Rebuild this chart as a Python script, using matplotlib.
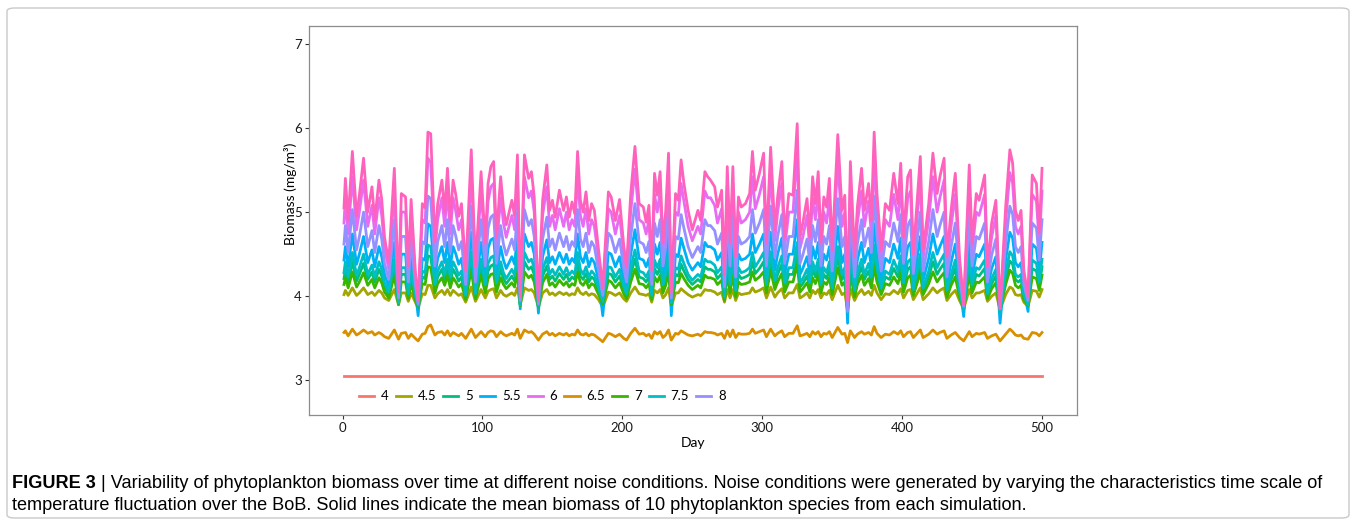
import matplotlib
matplotlib.use("Agg")
import matplotlib.pyplot as plt
from matplotlib.patches import FancyBboxPatch

plt.rcParams['font.family'] = ['Lato', 'DejaVu Sans']

# days at which the curves were read (turning points of the noisiest curve)
day = [1, 2, 4, 7, 10, 12, 15, 18, 21, 23,
       26, 28, 30, 33, 37, 40, 42, 45, 47, 49,
       52, 54, 57, 59, 61, 63, 66, 68, 71, 73,
       75, 77, 79, 81, 83, 85, 88, 92, 95, 99,
       102, 104, 106, 108, 110, 113, 115, 117, 121, 123,
       125, 127, 130, 133, 135, 137, 140, 143, 146, 148,
       150, 152, 155, 158, 160, 162, 164, 166, 168, 170,
       172, 174, 176, 178, 180, 183, 186, 190, 192, 195,
       198, 201, 203, 206, 209, 212, 215, 217, 219, 221,
       223, 225, 227, 229, 231, 233, 235, 238, 240, 242,
       244, 247, 250, 254, 256, 259, 261, 263, 266, 268,
       271, 273, 275, 277, 279, 281, 283, 285, 288, 291,
       293, 295, 298, 301, 303, 306, 309, 311, 314, 316,
       319, 322, 325, 327, 329, 332, 334, 336, 338, 340,
       342, 344, 346, 348, 350, 354, 357, 359, 361, 363,
       366, 368, 371, 373, 376, 378, 380, 382, 385, 388,
       391, 394, 397, 399, 401, 404, 406, 408, 413, 415,
       419, 422, 425, 427, 430, 432, 435, 438, 441, 444,
       448, 450, 453, 455, 459, 461, 464, 467, 470, 474,
       477, 479, 481, 483, 485, 487, 490, 493, 496, 498,
       500]

# noise "4": flat line
day_4 = [1, 500]
b_4 = [3.05, 3.05]

b_45 = [4.02, 4.07, 4.01, 4.10, 4.01, 4.04, 4.10, 4.02, 4.05, 4.01,
        4.07, 4.04, 3.98, 3.95, 4.08, 3.90, 4.04, 4.04, 3.94, 4.04,
        3.93, 3.86, 4.03, 4.02, 4.13, 4.13, 3.98, 4.03, 4.07, 4.02,
        4.08, 4.01, 4.07, 4.04, 4.01, 4.03, 3.93, 4.11, 3.94, 4.08,
        3.98, 4.06, 4.08, 4.09, 3.98, 4.07, 4.02, 4.00, 4.04, 4.01,
        4.10, 3.90, 4.10, 4.07, 4.08, 4.04, 3.87, 4.04, 4.08, 4.02,
        4.04, 4.01, 4.05, 4.02, 4.04, 4.01, 4.03, 4.02, 4.10, 4.04,
        4.02, 4.05, 4.01, 4.03, 4.02, 3.96, 3.87, 4.05, 4.04, 4.01,
        4.04, 3.97, 3.94, 4.04, 4.11, 4.03, 4.02, 4.01, 4.03, 3.93,
        4.07, 4.04, 4.08, 3.98, 4.02, 4.10, 3.88, 4.04, 4.04, 4.09,
        4.06, 4.02, 3.99, 4.02, 4.01, 4.08, 4.07, 4.07, 4.05, 4.02,
        4.05, 3.93, 4.08, 3.98, 4.08, 3.95, 4.04, 4.02, 4.03, 4.04,
        4.10, 4.05, 4.07, 4.10, 3.98, 4.11, 3.99, 4.04, 4.09, 3.98,
        4.04, 4.04, 4.14, 3.98, 4.00, 4.04, 3.98, 4.07, 4.03, 4.08,
        3.98, 4.04, 4.02, 4.07, 3.96, 4.13, 4.02, 4.04, 3.84, 4.09,
        3.95, 4.02, 4.08, 4.02, 4.06, 4.01, 4.13, 4.04, 3.96, 4.03,
        4.02, 4.07, 4.03, 4.09, 3.98, 4.07, 4.08, 3.96, 4.10, 3.96,
        4.03, 4.10, 4.04, 4.07, 4.10, 3.95, 4.02, 4.07, 3.95, 3.85,
        4.08, 3.98, 4.04, 4.04, 4.07, 3.94, 4.00, 4.04, 3.84, 4.02,
        4.11, 4.09, 4.02, 4.01, 4.02, 3.93, 3.88, 4.07, 4.06, 3.99,
        4.08]

b_5 = [4.21, 4.32, 4.17, 4.41, 4.18, 4.26, 4.39, 4.20, 4.29, 4.17,
       4.32, 4.24, 4.11, 4.02, 4.35, 3.91, 4.26, 4.26, 4.00, 4.24,
       3.99, 3.88, 4.23, 4.21, 4.48, 4.47, 4.09, 4.23, 4.32, 4.20,
       4.35, 4.17, 4.32, 4.26, 4.18, 4.23, 3.99, 4.42, 4.00, 4.35,
       4.09, 4.30, 4.36, 4.38, 4.11, 4.32, 4.21, 4.15, 4.24, 4.18,
       4.41, 3.90, 4.41, 4.32, 4.35, 4.26, 3.88, 4.24, 4.36, 4.20,
       4.24, 4.18, 4.27, 4.20, 4.26, 4.18, 4.23, 4.20, 4.41, 4.24,
       4.20, 4.27, 4.17, 4.23, 4.20, 4.06, 3.93, 4.27, 4.26, 4.17,
       4.24, 4.08, 4.00, 4.26, 4.44, 4.23, 4.21, 4.17, 4.23, 3.99,
       4.33, 4.26, 4.35, 4.09, 4.20, 4.41, 3.91, 4.26, 4.24, 4.38,
       4.30, 4.20, 4.14, 4.20, 4.17, 4.35, 4.32, 4.32, 4.29, 4.21,
       4.27, 3.97, 4.36, 4.09, 4.36, 4.03, 4.26, 4.21, 4.23, 4.26,
       4.41, 4.27, 4.33, 4.41, 4.09, 4.42, 4.14, 4.26, 4.38, 4.11,
       4.26, 4.26, 4.51, 4.11, 4.15, 4.24, 4.11, 4.32, 4.23, 4.35,
       4.09, 4.26, 4.21, 4.32, 4.06, 4.47, 4.20, 4.26, 3.85, 4.38,
       4.03, 4.21, 4.35, 4.20, 4.30, 4.17, 4.48, 4.26, 4.06, 4.23,
       4.20, 4.33, 4.23, 4.38, 4.11, 4.32, 4.35, 4.05, 4.39, 4.06,
       4.23, 4.41, 4.26, 4.32, 4.39, 4.03, 4.20, 4.33, 4.03, 3.87,
       4.36, 4.09, 4.26, 4.24, 4.33, 4.00, 4.15, 4.24, 3.84, 4.21,
       4.42, 4.38, 4.20, 4.17, 4.20, 3.99, 3.90, 4.33, 4.30, 4.12,
       4.35]

b_55 = [4.43, 4.59, 4.35, 4.74, 4.38, 4.50, 4.71, 4.40, 4.55, 4.35,
        4.59, 4.47, 4.26, 4.11, 4.64, 3.95, 4.50, 4.50, 4.09, 4.47,
        4.07, 3.77, 4.45, 4.43, 4.86, 4.83, 4.23, 4.45, 4.59, 4.40,
        4.64, 4.35, 4.59, 4.50, 4.38, 4.45, 4.07, 4.76, 4.09, 4.64,
        4.23, 4.57, 4.67, 4.69, 4.26, 4.59, 4.43, 4.33, 4.47, 4.38,
        4.74, 3.85, 4.74, 4.59, 4.64, 4.50, 3.80, 4.47, 4.67, 4.40,
        4.47, 4.38, 4.52, 4.40, 4.50, 4.38, 4.45, 4.40, 4.74, 4.47,
        4.40, 4.52, 4.35, 4.45, 4.40, 4.19, 3.77, 4.52, 4.50, 4.35,
        4.47, 4.21, 4.09, 4.50, 4.79, 4.45, 4.43, 4.35, 4.45, 4.07,
        4.62, 4.50, 4.64, 4.23, 4.40, 4.74, 3.77, 4.50, 4.47, 4.69,
        4.57, 4.40, 4.31, 4.40, 4.35, 4.64, 4.59, 4.59, 4.55, 4.43,
        4.52, 4.04, 4.67, 4.23, 4.67, 4.14, 4.50, 4.43, 4.45, 4.50,
        4.74, 4.52, 4.62, 4.74, 4.23, 4.76, 4.31, 4.50, 4.69, 4.26,
        4.50, 4.50, 4.91, 4.26, 4.33, 4.47, 4.26, 4.59, 4.45, 4.64,
        4.23, 4.50, 4.43, 4.59, 4.19, 4.83, 4.40, 4.50, 3.68, 4.69,
        4.14, 4.43, 4.64, 4.40, 4.57, 4.35, 4.86, 4.50, 4.19, 4.45,
        4.40, 4.62, 4.45, 4.69, 4.26, 4.59, 4.64, 4.16, 4.71, 4.19,
        4.45, 4.74, 4.50, 4.59, 4.71, 4.14, 4.40, 4.62, 4.14, 3.76,
        4.67, 4.23, 4.50, 4.47, 4.62, 4.09, 4.33, 4.47, 3.68, 4.43,
        4.76, 4.69, 4.40, 4.35, 4.40, 4.07, 3.82, 4.62, 4.57, 4.28,
        4.64]

b_6 = [4.87, 5.17, 4.74, 5.42, 4.79, 5.00, 5.38, 4.83, 5.08, 4.74,
       5.17, 4.96, 4.57, 4.32, 5.25, 4.02, 5.00, 5.00, 4.28, 4.96,
       4.23, 3.94, 4.91, 4.87, 5.64, 5.59, 4.53, 4.91, 5.17, 4.83,
       5.25, 4.74, 5.17, 5.00, 4.79, 4.91, 4.23, 5.47, 4.28, 5.25,
       4.53, 5.13, 5.30, 5.34, 4.57, 5.17, 4.87, 4.70, 4.96, 4.79,
       5.42, 3.98, 5.42, 5.17, 5.25, 5.00, 3.94, 4.96, 5.30, 4.83,
       4.96, 4.79, 5.04, 4.83, 5.00, 4.79, 4.91, 4.83, 5.42, 4.96,
       4.83, 5.04, 4.74, 4.91, 4.83, 4.45, 4.06, 5.04, 5.00, 4.74,
       4.96, 4.49, 4.28, 5.00, 5.51, 4.91, 4.87, 4.74, 4.91, 4.23,
       5.21, 5.00, 5.25, 4.53, 4.83, 5.42, 4.02, 5.00, 4.96, 5.34,
       5.13, 4.83, 4.66, 4.83, 4.74, 5.25, 5.17, 5.17, 5.08, 4.87,
       5.04, 4.19, 5.30, 4.53, 5.30, 4.36, 5.00, 4.87, 4.91, 5.00,
       5.42, 5.04, 5.21, 5.42, 4.53, 5.47, 4.66, 5.00, 5.34, 4.57,
       5.00, 5.00, 5.72, 4.57, 4.70, 4.96, 4.57, 5.17, 4.91, 5.25,
       4.53, 5.00, 4.87, 5.17, 4.45, 5.59, 4.83, 5.00, 3.94, 5.34,
       4.36, 4.87, 5.25, 4.83, 5.13, 4.74, 5.64, 5.00, 4.45, 4.91,
       4.83, 5.21, 4.91, 5.34, 4.57, 5.17, 5.25, 4.40, 5.38, 4.45,
       4.91, 5.42, 5.00, 5.17, 5.38, 4.36, 4.83, 5.21, 4.36, 3.89,
       5.30, 4.53, 5.00, 4.96, 5.21, 4.28, 4.70, 4.96, 3.85, 4.87,
       5.47, 5.34, 4.83, 4.74, 4.83, 4.23, 3.98, 5.21, 5.13, 4.62,
       5.25]

b_65 = [3.57, 3.59, 3.53, 3.61, 3.54, 3.56, 3.60, 3.56, 3.58, 3.54,
        3.57, 3.55, 3.52, 3.50, 3.60, 3.49, 3.56, 3.57, 3.50, 3.55,
        3.50, 3.47, 3.55, 3.56, 3.64, 3.66, 3.54, 3.57, 3.58, 3.54,
        3.59, 3.53, 3.57, 3.55, 3.53, 3.56, 3.50, 3.61, 3.51, 3.58,
        3.52, 3.57, 3.59, 3.58, 3.52, 3.58, 3.55, 3.53, 3.56, 3.54,
        3.61, 3.50, 3.60, 3.57, 3.58, 3.55, 3.48, 3.55, 3.58, 3.54,
        3.56, 3.53, 3.56, 3.54, 3.56, 3.53, 3.55, 3.54, 3.60, 3.55,
        3.54, 3.56, 3.53, 3.55, 3.54, 3.50, 3.46, 3.56, 3.55, 3.52,
        3.55, 3.50, 3.48, 3.56, 3.62, 3.55, 3.56, 3.53, 3.55, 3.50,
        3.58, 3.55, 3.58, 3.51, 3.54, 3.60, 3.48, 3.56, 3.55, 3.59,
        3.57, 3.54, 3.53, 3.55, 3.53, 3.58, 3.57, 3.57, 3.56, 3.54,
        3.56, 3.50, 3.59, 3.52, 3.60, 3.51, 3.56, 3.55, 3.55, 3.56,
        3.61, 3.56, 3.58, 3.60, 3.52, 3.61, 3.53, 3.56, 3.59, 3.52,
        3.56, 3.56, 3.65, 3.53, 3.54, 3.56, 3.52, 3.58, 3.55, 3.58,
        3.52, 3.56, 3.55, 3.58, 3.51, 3.63, 3.55, 3.56, 3.45, 3.59,
        3.51, 3.55, 3.58, 3.55, 3.57, 3.54, 3.64, 3.56, 3.51, 3.55,
        3.54, 3.58, 3.55, 3.59, 3.52, 3.57, 3.58, 3.51, 3.60, 3.51,
        3.55, 3.60, 3.55, 3.57, 3.59, 3.50, 3.54, 3.57, 3.51, 3.47,
        3.58, 3.52, 3.56, 3.55, 3.57, 3.50, 3.53, 3.55, 3.47, 3.55,
        3.61, 3.58, 3.54, 3.53, 3.54, 3.50, 3.49, 3.57, 3.56, 3.53,
        3.57]

b_7 = [4.14, 4.22, 4.10, 4.29, 4.11, 4.17, 4.28, 4.13, 4.20, 4.10,
       4.22, 4.16, 4.05, 3.98, 4.25, 3.90, 4.17, 4.17, 3.97, 4.16,
       3.96, 3.87, 4.15, 4.14, 4.35, 4.34, 4.04, 4.15, 4.22, 4.13,
       4.25, 4.10, 4.22, 4.17, 4.11, 4.15, 3.96, 4.31, 3.97, 4.25,
       4.04, 4.21, 4.26, 4.27, 4.05, 4.22, 4.14, 4.09, 4.16, 4.11,
       4.29, 3.89, 4.29, 4.22, 4.25, 4.17, 3.87, 4.16, 4.26, 4.13,
       4.16, 4.11, 4.19, 4.13, 4.17, 4.11, 4.15, 4.13, 4.29, 4.16,
       4.13, 4.19, 4.10, 4.15, 4.13, 4.02, 3.91, 4.19, 4.17, 4.10,
       4.16, 4.03, 3.97, 4.17, 4.32, 4.15, 4.14, 4.10, 4.15, 3.96,
       4.23, 4.17, 4.25, 4.04, 4.13, 4.29, 3.90, 4.17, 4.16, 4.27,
       4.21, 4.13, 4.08, 4.13, 4.10, 4.25, 4.22, 4.22, 4.20, 4.14,
       4.19, 3.95, 4.26, 4.04, 4.26, 3.99, 4.17, 4.14, 4.15, 4.17,
       4.29, 4.19, 4.23, 4.29, 4.04, 4.31, 4.08, 4.17, 4.27, 4.05,
       4.17, 4.17, 4.38, 4.05, 4.09, 4.16, 4.05, 4.22, 4.15, 4.25,
       4.04, 4.17, 4.14, 4.22, 4.02, 4.34, 4.13, 4.17, 3.83, 4.27,
       3.99, 4.14, 4.25, 4.13, 4.21, 4.10, 4.35, 4.17, 4.02, 4.15,
       4.13, 4.23, 4.15, 4.27, 4.05, 4.22, 4.25, 4.01, 4.28, 4.02,
       4.15, 4.29, 4.17, 4.22, 4.28, 3.99, 4.13, 4.23, 3.99, 3.86,
       4.26, 4.04, 4.17, 4.16, 4.23, 3.97, 4.09, 4.16, 3.83, 4.14,
       4.31, 4.27, 4.13, 4.10, 4.13, 3.96, 3.89, 4.23, 4.21, 4.07,
       4.25]

b_75 = [4.28, 4.41, 4.23, 4.52, 4.25, 4.34, 4.50, 4.26, 4.37, 4.23,
        4.41, 4.32, 4.16, 4.05, 4.44, 3.92, 4.34, 4.34, 4.03, 4.32,
        4.01, 3.89, 4.30, 4.28, 4.61, 4.59, 4.14, 4.30, 4.41, 4.26,
        4.44, 4.23, 4.41, 4.34, 4.25, 4.30, 4.01, 4.53, 4.03, 4.44,
        4.14, 4.39, 4.46, 4.48, 4.16, 4.41, 4.28, 4.21, 4.32, 4.25,
        4.52, 3.90, 4.52, 4.41, 4.44, 4.34, 3.89, 4.32, 4.46, 4.26,
        4.32, 4.25, 4.35, 4.26, 4.34, 4.25, 4.30, 4.26, 4.52, 4.32,
        4.26, 4.35, 4.23, 4.30, 4.26, 4.10, 3.94, 4.35, 4.34, 4.23,
        4.32, 4.12, 4.03, 4.34, 4.55, 4.30, 4.28, 4.23, 4.30, 4.01,
        4.43, 4.34, 4.44, 4.14, 4.26, 4.52, 3.92, 4.34, 4.32, 4.48,
        4.39, 4.26, 4.19, 4.26, 4.23, 4.44, 4.41, 4.41, 4.37, 4.28,
        4.35, 3.99, 4.46, 4.14, 4.46, 4.07, 4.34, 4.28, 4.30, 4.34,
        4.52, 4.35, 4.43, 4.52, 4.14, 4.53, 4.19, 4.34, 4.48, 4.16,
        4.34, 4.34, 4.64, 4.16, 4.21, 4.32, 4.16, 4.41, 4.30, 4.44,
        4.14, 4.34, 4.28, 4.41, 4.10, 4.59, 4.26, 4.34, 3.80, 4.48,
        4.07, 4.28, 4.44, 4.26, 4.39, 4.23, 4.61, 4.34, 4.10, 4.30,
        4.26, 4.43, 4.30, 4.48, 4.16, 4.41, 4.44, 4.08, 4.50, 4.10,
        4.30, 4.52, 4.34, 4.41, 4.50, 4.07, 4.26, 4.43, 4.07, 3.84,
        4.46, 4.14, 4.34, 4.32, 4.43, 4.03, 4.21, 4.32, 3.80, 4.28,
        4.53, 4.48, 4.26, 4.23, 4.26, 4.01, 3.90, 4.43, 4.39, 4.17,
        4.44]

b_8 = [4.62, 4.84, 4.52, 5.03, 4.55, 4.71, 5.00, 4.59, 4.78, 4.52,
       4.84, 4.68, 4.39, 4.20, 4.91, 3.98, 4.71, 4.71, 4.17, 4.68,
       4.14, 3.91, 4.65, 4.62, 5.19, 5.16, 4.36, 4.65, 4.84, 4.59,
       4.91, 4.52, 4.84, 4.71, 4.55, 4.65, 4.14, 5.07, 4.17, 4.91,
       4.36, 4.81, 4.94, 4.97, 4.39, 4.84, 4.62, 4.49, 4.68, 4.55,
       5.03, 3.95, 5.03, 4.84, 4.91, 4.71, 3.91, 4.68, 4.94, 4.59,
       4.68, 4.55, 4.75, 4.59, 4.71, 4.55, 4.65, 4.59, 5.03, 4.68,
       4.59, 4.75, 4.52, 4.65, 4.59, 4.30, 4.01, 4.75, 4.71, 4.52,
       4.68, 4.33, 4.17, 4.71, 5.10, 4.65, 4.62, 4.52, 4.65, 4.14,
       4.87, 4.71, 4.91, 4.36, 4.59, 5.03, 3.98, 4.71, 4.68, 4.97,
       4.81, 4.59, 4.46, 4.59, 4.52, 4.91, 4.84, 4.84, 4.78, 4.62,
       4.75, 4.11, 4.94, 4.36, 4.94, 4.23, 4.71, 4.62, 4.65, 4.71,
       5.03, 4.75, 4.87, 5.03, 4.36, 5.07, 4.46, 4.71, 4.97, 4.39,
       4.71, 4.71, 5.26, 4.39, 4.49, 4.68, 4.39, 4.84, 4.65, 4.91,
       4.36, 4.71, 4.62, 4.84, 4.30, 5.16, 4.59, 4.71, 3.82, 4.97,
       4.23, 4.62, 4.91, 4.59, 4.81, 4.52, 5.19, 4.71, 4.30, 4.65,
       4.59, 4.87, 4.65, 4.97, 4.39, 4.84, 4.91, 4.27, 5.00, 4.30,
       4.65, 5.03, 4.71, 4.84, 5.00, 4.23, 4.59, 4.87, 4.23, 3.88,
       4.94, 4.36, 4.71, 4.68, 4.87, 4.17, 4.49, 4.68, 3.85, 4.62,
       5.07, 4.97, 4.59, 4.52, 4.59, 4.14, 3.95, 4.87, 4.81, 4.43,
       4.91]

# top (pink) curve, drawn without a legend key
b_top = [5.05, 5.40, 4.90, 5.72, 4.95, 5.20, 5.64, 5.00, 5.30, 4.90,
         5.38, 5.15, 4.70, 4.40, 5.52, 4.05, 5.22, 5.18, 4.35, 5.15,
         4.30, 3.95, 5.10, 5.05, 5.95, 5.93, 4.65, 5.10, 5.38, 5.00,
         5.52, 4.90, 5.38, 5.20, 4.95, 5.10, 4.30, 5.74, 4.35, 5.48,
         4.63, 5.34, 5.54, 5.60, 4.70, 5.42, 5.05, 4.85, 5.14, 4.95,
         5.68, 4.00, 5.68, 5.40, 5.48, 5.18, 3.95, 5.14, 5.56, 5.02,
         5.14, 4.94, 5.26, 5.02, 5.18, 4.94, 5.12, 4.98, 5.72, 5.14,
         5.00, 5.24, 4.90, 5.10, 5.02, 4.55, 4.10, 5.24, 5.18, 4.90,
         5.15, 4.60, 4.35, 5.22, 5.78, 5.10, 5.06, 4.88, 5.08, 4.31,
         5.46, 5.20, 5.48, 4.63, 5.02, 5.70, 4.05, 5.22, 5.14, 5.62,
         5.34, 5.02, 4.79, 5.02, 4.90, 5.48, 5.42, 5.38, 5.30, 5.06,
         5.26, 4.25, 5.54, 4.63, 5.54, 4.47, 5.18, 5.06, 5.10, 5.22,
         5.72, 5.26, 5.46, 5.70, 4.63, 5.77, 4.79, 5.18, 5.60, 4.70,
         5.22, 5.20, 6.05, 4.70, 4.87, 5.16, 4.70, 5.42, 5.10, 5.48,
         4.63, 5.18, 5.06, 5.40, 4.55, 5.92, 5.02, 5.20, 3.95, 5.60,
         4.47, 5.06, 5.52, 5.02, 5.34, 4.90, 5.95, 5.22, 4.55, 5.10,
         5.02, 5.46, 5.10, 5.58, 4.70, 5.42, 5.50, 4.50, 5.66, 4.55,
         5.10, 5.70, 5.22, 5.42, 5.64, 4.47, 5.02, 5.46, 4.47, 3.90,
         5.56, 4.63, 5.22, 5.14, 5.44, 4.35, 4.87, 5.14, 3.85, 5.06,
         5.74, 5.58, 5.02, 4.90, 5.02, 4.31, 4.00, 5.44, 5.34, 4.75,
         5.52]

levels = ['4', '4.5', '5', '5.5', '6', '6.5', '7', '7.5', '8']
colors = ['#F8766D', '#A3A500', '#00BF7D', '#00B0F6', '#E76BF3',
          '#D89000', '#39B600', '#00BFC4', '#9590FF']
series = [b_4, b_45, b_5, b_55, b_6, b_65, b_7, b_75, b_8]

fig = plt.figure(figsize=(13.56, 5.27), dpi=100)

# page frame
fig.patches.append(FancyBboxPatch((7 / 1356, 9 / 527), 1342 / 1356, 510 / 527,
                                  boxstyle='round,pad=0,rounding_size=0.006',
                                  transform=fig.transFigure, fill=False,
                                  edgecolor='#c9c9c9', linewidth=1.0))

ax = fig.add_axes([309 / 1356, 1 - 415 / 527, 768 / 1356, 389 / 527])

for lev, col, vals in zip(levels, colors, series):
    xs = day_4 if lev == '4' else day
    ax.plot(xs, vals, color=col, lw=2.0, label=lev, solid_joinstyle='round')
ax.plot(day, b_top, color='#FF62BC', lw=2.0, label='_nolegend_', solid_joinstyle='round')

ax.set_xlim(-24, 525)
ax.set_ylim(2.59, 7.21)
ax.set_xticks([0, 100, 200, 300, 400, 500])
ax.set_yticks([3, 4, 5, 6, 7])
for s in ax.spines.values():
    s.set_color('#8c8c8c')
    s.set_linewidth(0.9)
ax.tick_params(length=3, width=0.8, color='#333333', labelsize=9.5,
               labelcolor='#1a1a1a', pad=2)
ax.set_xlabel('Day', fontsize=10, labelpad=2)
ax.set_ylabel('Biomass (mg/m³)', fontsize=10)
ax.yaxis.set_label_coords(-0.016, 0.568)

ax.legend(loc='center left', bbox_to_anchor=(0.058, 0.048), ncol=9,
          frameon=False, fontsize=9.5, handlelength=1.15, handletextpad=0.5,
          columnspacing=0.55, borderaxespad=0)

# caption
cap_font = ['Liberation Sans Narrow', 'Liberation Sans', 'DejaVu Sans']
t1 = fig.text(12 / 1356, 1 - 484 / 527, 'FIGURE 3', fontsize=13.1, fontweight='bold',
              family=cap_font, va='center', ha='left')
fig.canvas.draw()
bb = t1.get_window_extent()
fig.text((bb.x1 + 5) / 1356, 1 - 484 / 527,
         '| Variability of phytoplankton biomass over time at different noise conditions. '
         'Noise conditions were generated by varying the characteristics time scale of',
         fontsize=13.1, family=cap_font, va='center', ha='left')
fig.text(12 / 1356, 1 - 506 / 527,
         'temperature fluctuation over the BoB. Solid lines indicate the mean biomass of '
         '10 phytoplankton species from each simulation.',
         fontsize=13.1, family=cap_font, va='center', ha='left')

fig.savefig('out.png', dpi=100)
